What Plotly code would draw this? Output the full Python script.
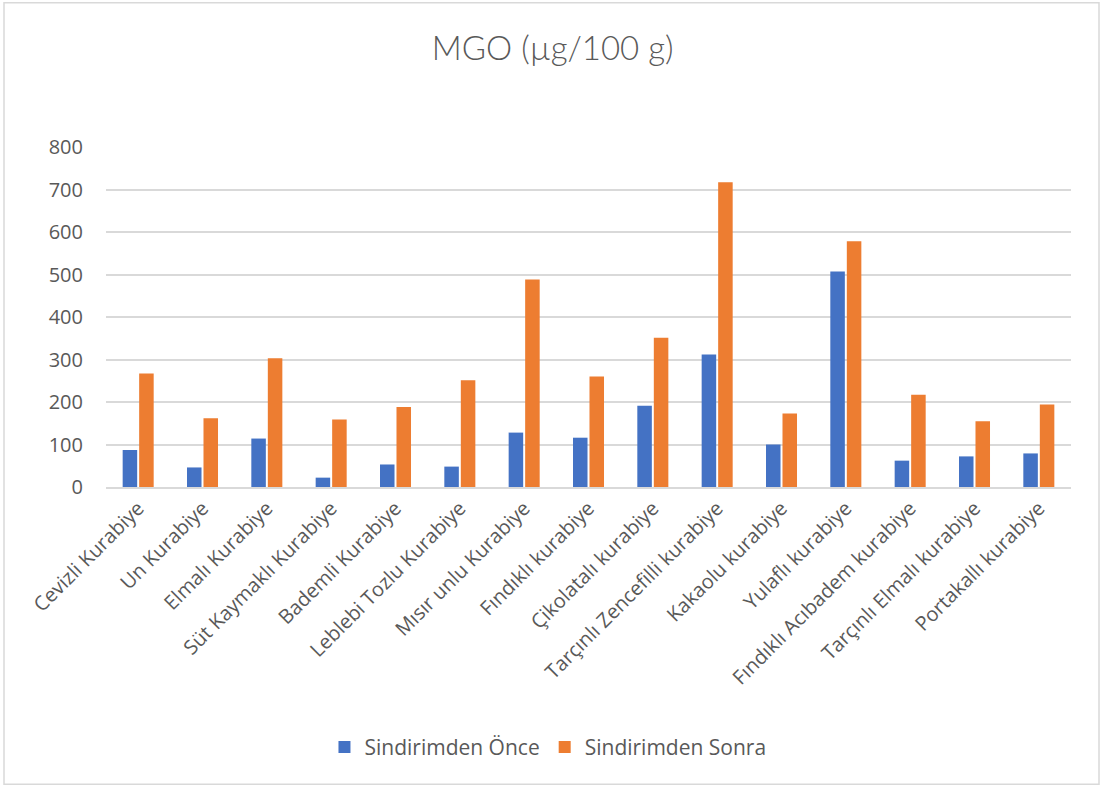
import plotly.graph_objects as go

# MGO content of cookies before and after in vitro digestion (µg/100 g)
categories = [
    "Cevizli Kurabiye", "Un Kurabiye", "Elmalı Kurabiye", "Süt Kaymaklı Kurabiye",
    "Bademli Kurabiye", "Leblebi Tozlu Kurabiye", "Mısır unlu Kurabiye",
    "Fındıklı kurabiye", "Çikolatalı kurabiye", "Tarçınlı Zencefilli kurabiye",
    "Kakaolu kurabiye", "Yulaflı kurabiye", "Fındıklı Acıbadem kurabiye",
    "Tarçınlı Elmalı kurabiye", "Portakallı kurabiye",
]
before_digestion = [87, 46, 114, 22, 53, 48, 128, 116, 191, 312, 100, 507, 62, 72, 79]
after_digestion = [267, 162, 303, 159, 188, 251, 488, 260, 351, 717, 173, 578, 217, 155, 194]
y_ticks = [0, 100, 200, 300, 400, 500, 600, 700, 800]

TEXT = "#595959"
GRID = "#D9D9D9"
FONT = "Open Sans, Noto Sans, sans-serif"

fig = go.Figure()
fig.add_trace(go.Bar(name="Sindirimden Önce", x=categories, y=before_digestion,
                     marker=dict(color="#4472C4", line=dict(width=0))))
fig.add_trace(go.Bar(name="Sindirimden Sonra", x=categories, y=after_digestion,
                     marker=dict(color="#ED7D31", line=dict(width=0))))

fig.update_layout(
    width=1101, height=786,
    margin=dict(l=106, r=30, t=147, b=299, autoexpand=False),
    paper_bgcolor="white", plot_bgcolor="white",
    barmode="group", bargap=0.487, bargroupgap=0.12,
    font=dict(family=FONT, color=TEXT, size=20),
    title=dict(text="MGO (µg/100 g)", x=0.502, xanchor="center", y=1 - 48 / 786,
               yanchor="middle",
               font=dict(family="Lato, Open Sans, sans-serif", size=33, color=TEXT,
                         weight=300)),
    showlegend=True,
    legend=dict(orientation="h", x=0.458, xanchor="center", y=-0.766, yanchor="middle",
                font=dict(family=FONT, size=21, color=TEXT), itemwidth=30,
                bgcolor="rgba(0,0,0,0)"),
    xaxis=dict(tickangle=-45, showgrid=False, showline=True, linecolor=GRID,
               linewidth=1.5, ticks="", tickfont=dict(family=FONT, size=20, color=TEXT)),
    yaxis=dict(range=[0, 800], tickvals=y_ticks, showgrid=True, gridcolor=GRID,
               gridwidth=1.5, zeroline=False, showline=False, ticks="",
               ticklabelstandoff=22,
               tickfont=dict(family=FONT, size=20, color=TEXT)),
    shapes=[dict(type="rect", xref="paper", yref="paper",
                 x0=(4 - 106) / 965, x1=(1099 - 106) / 965,
                 y0=-(784 - 486.7) / 340, y1=1 + (146.7 - 2.5) / 340,
                 line=dict(color=GRID, width=1.5), layer="below")],
)

fig.write_html("out.html")
